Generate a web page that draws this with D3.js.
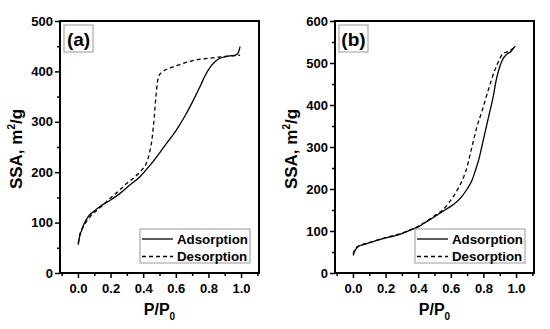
<!DOCTYPE html>
<html>
<head>
<meta charset="utf-8">
<script src="https://cdn.jsdelivr.net/npm/d3@7"></script>
<style>
  body { margin: 0; background: #fff; }
  svg text { font-family: "Liberation Sans", Arial, sans-serif; font-weight: bold; fill: #000; }
</style>
</head>
<body>
<div id="chart"></div>
<script>
// panel (a) data
var adsAx = [0.002, 0.01, 0.023, 0.04, 0.063, 0.1, 0.135, 0.2, 0.258, 0.32, 0.38, 0.44, 0.5, 0.55, 0.6, 0.65, 0.7, 0.75, 0.78, 0.81, 0.84, 0.87, 0.9, 0.93, 0.96, 0.98, 0.994];
var adsAy = [56, 72, 85, 99, 112, 123, 132, 145, 158, 175, 191, 213, 238, 260, 282, 308, 338, 371, 392, 408, 419, 426, 429, 431, 432, 435, 449];
var desAx = [0.002, 0.01, 0.033, 0.06, 0.094, 0.15, 0.196, 0.25, 0.30, 0.35, 0.39, 0.42, 0.44, 0.455, 0.468, 0.478, 0.488, 0.497, 0.51, 0.53, 0.565, 0.62, 0.71, 0.8, 0.88, 0.95, 0.994];
var desAy = [59, 74, 92, 106, 118, 134, 148, 163, 178, 191, 204, 218, 240, 268, 310, 350, 380, 392, 397, 402, 407, 413, 422, 426, 429, 431, 432];

// panel (b) data
var adsBx = [0.002, 0.005, 0.015, 0.033, 0.06, 0.094, 0.15, 0.196, 0.25, 0.30, 0.35, 0.40, 0.45, 0.50, 0.564, 0.62, 0.667, 0.70, 0.73, 0.75, 0.77, 0.80, 0.82, 0.84, 0.86, 0.87, 0.88, 0.90, 0.92, 0.94, 0.97, 0.994];
var adsBy = [42, 47, 55, 63, 67, 71, 78, 83, 88, 94, 102, 110, 122, 134, 150, 164, 182, 200, 221, 243, 268, 318, 352, 386, 420, 442, 462, 491, 510, 520, 528, 540];
var desBx = [0.002, 0.01, 0.033, 0.06, 0.094, 0.15, 0.2, 0.3, 0.4, 0.5, 0.55, 0.585, 0.62, 0.65, 0.68, 0.70, 0.72, 0.74, 0.76, 0.79, 0.83, 0.87, 0.90, 0.92, 0.95, 0.994];
var desBy = [45, 55, 64, 68, 72, 78, 84, 95, 111, 136, 150, 166, 185, 205, 230, 253, 285, 317, 348, 384, 436, 483, 510, 523, 527, 538];

var xTicks = [0.0, 0.2, 0.4, 0.6, 0.8, 1.0];
var xMinor = [-0.1, 0.1, 0.3, 0.5, 0.7, 0.9, 1.1];
var yTicksA = [0, 100, 200, 300, 400, 500];
var yTicksB = [0, 100, 200, 300, 400, 500, 600];
var seriesNames = ["Adsorption", "Desorption"];

var svgWidth = 550;
var svgHeight = 329;
var margin = { top: 21, left: 60 };
var width = 199;
var height = 252;

var svg = d3.select("#chart")
    .append("svg")
    .attr("width", svgWidth)
    .attr("height", svgHeight);

function zip(xs, ys) {
    return xs.map(function (x, i) { return { x: x, y: ys[i] }; });
}

function drawPanel(offsetX, label, yMax, yTicks, ads, des) {
    var g = svg.append("g")
        .attr("transform", `translate(${offsetX + margin.left}, ${margin.top})`);

    var xScale = d3.scaleLinear().domain([-0.11, 1.11]).range([0, width]);
    var yScale = d3.scaleLinear().domain([0, yMax]).range([height, 0]);

    // axes
    var bottomAxis = d3.axisBottom(xScale).tickValues(xTicks).tickSize(5).tickPadding(6)
        .tickFormat(d3.format(".1f"));
    var bottomMinor = d3.axisBottom(xScale).tickValues(xMinor).tickSize(3).tickFormat("");
    var yMinor = yTicks.slice(0, -1).map(function (d) { return d + 50; });
    var leftAxis = d3.axisLeft(yScale).tickValues(yTicks).tickSize(5).tickPadding(2);
    var leftMinor = d3.axisLeft(yScale).tickValues(yMinor).tickSize(3).tickFormat("");

    [[bottomAxis, true], [bottomMinor, true], [leftAxis, false], [leftMinor, false]].forEach(function (a) {
        var ax = g.append("g")
            .attr("transform", a[1] ? `translate(0,${height})` : null)
            .call(a[0]);
        ax.select(".domain").remove();
        ax.selectAll("line").attr("stroke", "#000").attr("stroke-width", 1.5);
        ax.selectAll("text").attr("font-size", 13).attr("font-family", null);
    });

    // curves
    var line = d3.line()
        .x(function (d) { return xScale(d.x); })
        .y(function (d) { return yScale(d.y); })
        .curve(d3.curveMonotoneX);

    g.append("path")
        .datum(ads)
        .attr("d", line)
        .attr("fill", "none")
        .attr("stroke", "#000")
        .attr("stroke-width", 1.3);

    g.append("path")
        .datum(des)
        .attr("d", line)
        .attr("fill", "none")
        .attr("stroke", "#000")
        .attr("stroke-width", 1.3)
        .attr("stroke-dasharray", "4,3");

    // frame
    g.append("rect")
        .attr("width", width)
        .attr("height", height)
        .attr("fill", "none")
        .attr("stroke", "#000")
        .attr("stroke-width", 2);

    // panel label
    g.append("rect")
        .attr("x", 4).attr("y", 4)
        .attr("width", 29).attr("height", 27)
        .attr("fill", "none")
        .attr("stroke", "#999")
        .attr("stroke-width", 1);
    g.append("text")
        .attr("x", 18.5).attr("y", 25)
        .attr("text-anchor", "middle")
        .attr("font-size", 19)
        .text(label);

    // legend
    var legend = g.append("g").attr("transform", "translate(80, 208)");
    legend.append("rect")
        .attr("width", 110).attr("height", 34)
        .attr("fill", "#fff")
        .attr("stroke", "#999")
        .attr("stroke-width", 1);
    seriesNames.forEach(function (name, i) {
        var yy = 10 + i * 17.5;
        legend.append("line")
            .attr("x1", 2).attr("x2", 33)
            .attr("y1", yy).attr("y2", yy)
            .attr("stroke", "#000")
            .attr("stroke-width", 1.3)
            .attr("stroke-dasharray", i === 1 ? "4,3" : null);
        legend.append("text")
            .attr("x", 37).attr("y", yy + 4.5)
            .attr("font-size", 13.3)
            .text(name);
    });

    // axis titles
    var yt = g.append("text")
        .attr("transform", `translate(-38, ${height / 2 + 2}) rotate(-90)`)
        .attr("text-anchor", "middle")
        .attr("font-size", 17);
    yt.append("tspan").text("SSA, m");
    yt.append("tspan").attr("font-size", 10).attr("dy", -7).text("2");
    yt.append("tspan").attr("dy", 7).text("/g");

    var xt = g.append("text")
        .attr("transform", `translate(${width / 2}, ${height + 42})`)
        .attr("text-anchor", "middle")
        .attr("font-size", 16);
    xt.append("tspan").text("P/P");
    xt.append("tspan").attr("font-size", 10).attr("dy", 5).text("0");
}

drawPanel(0, "(a)", 500, yTicksA, zip(adsAx, adsAy), zip(desAx, desAy));
drawPanel(275, "(b)", 600, yTicksB, zip(adsBx, adsBy), zip(desBx, desBy));
</script>
</body>
</html>
